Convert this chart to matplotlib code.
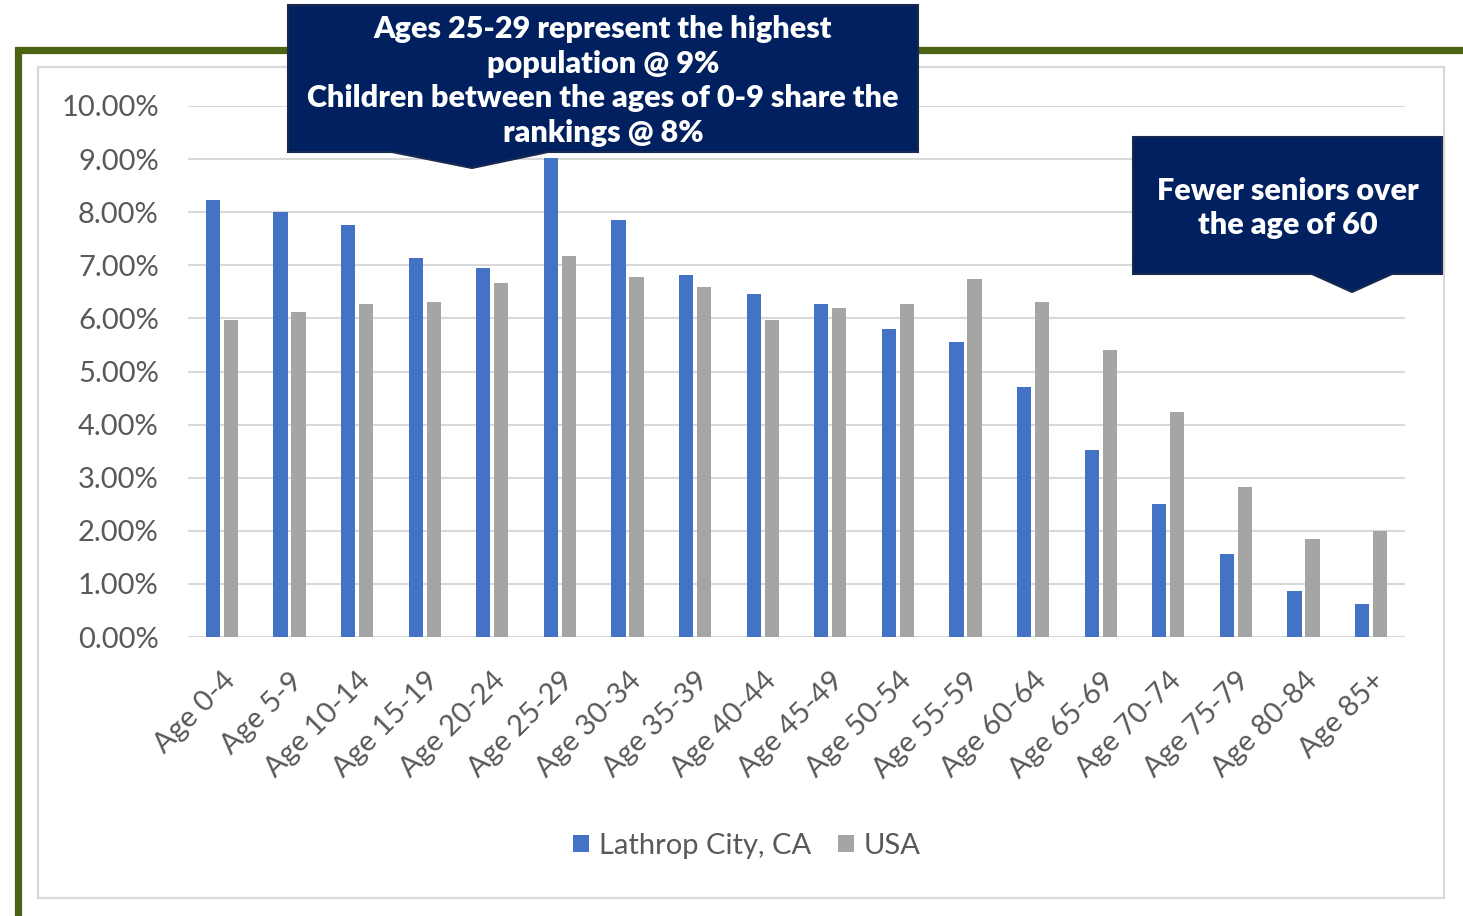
import matplotlib.pyplot as plt
import matplotlib.transforms as mtransforms
import numpy as np
from matplotlib.patches import Rectangle, Polygon

# data (shares of population)
ages = ["Age 0-4", "Age 5-9", "Age 10-14", "Age 15-19", "Age 20-24", "Age 25-29",
        "Age 30-34", "Age 35-39", "Age 40-44", "Age 45-49", "Age 50-54", "Age 55-59",
        "Age 60-64", "Age 65-69", "Age 70-74", "Age 75-79", "Age 80-84", "Age 85+"]
lathrop = [8.23, 8.00, 7.76, 7.14, 6.95, 9.02, 7.85, 6.82, 6.46, 6.27, 5.80, 5.56,
           4.71, 3.52, 2.50, 1.56, 0.87, 0.62]
usa = [5.97, 6.12, 6.27, 6.31, 6.67, 7.18, 6.78, 6.59, 5.97, 6.20, 6.27, 6.74,
       6.31, 5.40, 4.24, 2.82, 1.85, 2.00]
yticks = [0, 1, 2, 3, 4, 5, 6, 7, 8, 9, 10]
seriesNames = ["Lathrop City, CA", "USA"]

note1 = "Ages 25-29 represent the highest\npopulation @ 9%\nChildren between the ages of 0-9 share the\nrankings @ 8%"
note2 = "Fewer seniors over\nthe age of 60"

W, H = 1463, 916
fig = plt.figure(figsize=(W/100, H/100), dpi=100)

def fx(x):
    return x / W

def fy(y):
    return 1 - y / H

## frames
fig.add_artist(Rectangle((fx(17.5), fy(950)), fx(1600), fy(50.5) - fy(950),
                         transform=fig.transFigure, fill=False,
                         edgecolor="#4a6414", lw=5.2, zorder=0))
fig.add_artist(Rectangle((fx(38), fy(898)), fx(1444) - fx(38), fy(67) - fy(898),
                         transform=fig.transFigure, fill=False,
                         edgecolor="#d9d9d9", lw=1.6, zorder=0))

## bars
ax = fig.add_axes([fx(188), fy(637), fx(1405) - fx(188), fy(106) - fy(637)])
x = np.arange(len(ages))
ax.bar(x - 0.133, lathrop, width=0.21, color="#4472C4", label=seriesNames[0], zorder=3)
ax.bar(x + 0.133, usa, width=0.21, color="#A5A5A5", label=seriesNames[1], zorder=3)

ax.set_xlim(-0.5, len(ages) - 0.5)
ax.set_ylim(0, 10)
ax.set_yticks(yticks)
ax.set_yticklabels([f"{v:.2f}%" for v in yticks], fontsize=21, color="#595959",
                   family="Lato")
ax.set_xticks(x)
ax.set_xticklabels(ages, rotation=45, ha="right", rotation_mode="anchor",
                   fontsize=21, color="#595959", family="Lato")
shift = mtransforms.ScaledTranslation(-12/100, 0, fig.dpi_scale_trans)
for lbl in ax.get_xticklabels():
    lbl.set_transform(lbl.get_transform() + shift)
ax.tick_params(axis="both", length=0)
ax.tick_params(axis="y", pad=21)
ax.tick_params(axis="x", pad=22)
ax.grid(axis="y", color="#d9d9d9", lw=1.5, zorder=0)
for s in ax.spines.values():
    s.set_visible(False)
ax.set_facecolor("none")

leg = fig.legend(loc="center", bbox_to_anchor=(fx(747), fy(846)), ncol=2,
                 frameon=False, handlelength=0.55, handleheight=0.55,
                 handletextpad=0.35, columnspacing=0.9,
                 prop={"family": "Lato", "size": 21})
for t in leg.get_texts():
    t.set_color("#595959")

## callouts
def callout(x0, y0, x1, y1, pa, tip, pb):
    pts = [(x0, y0), (x1, y0), (x1, y1), (pb, y1), (tip[0], tip[1]), (pa, y1), (x0, y1)]
    fig.add_artist(Polygon([(fx(px), fy(py)) for px, py in pts], closed=True,
                           transform=fig.transFigure, facecolor="#002060",
                           edgecolor="#1a2a4f", lw=1.5, zorder=10))

callout(288, 5, 918, 152, 392, (472, 168), 548)
fig.text(fx(603), fy(81), note1, ha="center", va="center", color="white",
         fontsize=22, fontweight="heavy", family="Lato", linespacing=1.29, zorder=11)

callout(1133, 137, 1442, 274, 1312, (1352, 292), 1392)
fig.text(fx(1288), fy(208), note2, ha="center", va="center", color="white",
         fontsize=22, fontweight="heavy", family="Lato", linespacing=1.29, zorder=11)

fig.savefig("out.png", dpi=100)
